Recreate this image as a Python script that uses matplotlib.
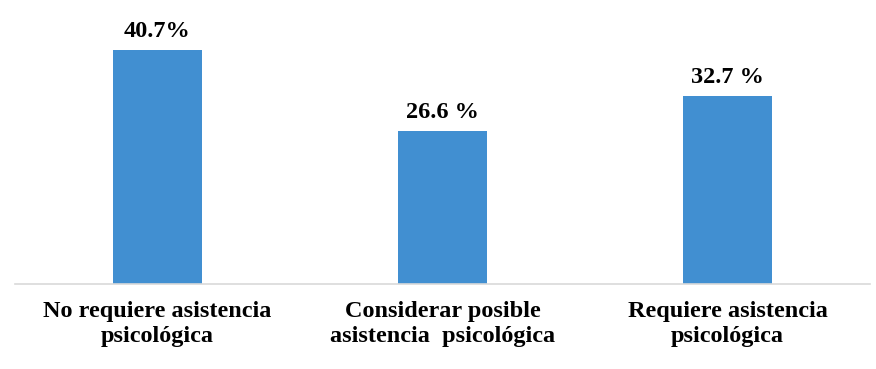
import matplotlib

matplotlib.use("Agg")
import matplotlib.pyplot as plt

CATEGORIES = [
    "No requiere asistencia\npsicológica",
    "Considerar posible\nasistencia  psicológica",
    "Requiere asistencia\npsicológica",
]
VALUES = [40.7, 26.6, 32.7]
VALUE_LABELS = ["40.7%", "26.6 %", "32.7 %"]

BAR_COLOR = "#418FD1"
FONT = "Liberation Serif"

fig = plt.figure(figsize=(8.76, 3.69), dpi=100)
# axes spans x 15..870 px, y 0..284 px (from top)
ax = fig.add_axes([15 / 876, 1 - 284 / 369, 855 / 876, 284 / 369])

x = range(len(VALUES))
bars = ax.bar(x, VALUES, width=0.31, color=BAR_COLOR, zorder=2)

for bar, label in zip(bars, VALUE_LABELS):
    ax.annotate(
        label,
        (bar.get_x() + bar.get_width() / 2, bar.get_height()),
        xytext=(0, 6),
        textcoords="offset points",
        ha="center",
        va="bottom",
        fontsize=17.5,
        fontweight="bold",
        family=FONT,
    )

ax.set_xlim(-0.5, 2.5)
ax.set_ylim(0, 49.4)
ax.set_xticks(list(x))
ax.set_xticklabels(CATEGORIES, fontsize=17.5, fontweight="bold", family=FONT,
                   linespacing=1.3)
ax.tick_params(axis="x", length=0, pad=12)
ax.set_yticks([])

for side in ("top", "left", "right"):
    ax.spines[side].set_visible(False)
ax.spines["bottom"].set_color("#D9D9D9")
ax.spines["bottom"].set_linewidth(1.2)

fig.savefig("out.png", dpi=100)
